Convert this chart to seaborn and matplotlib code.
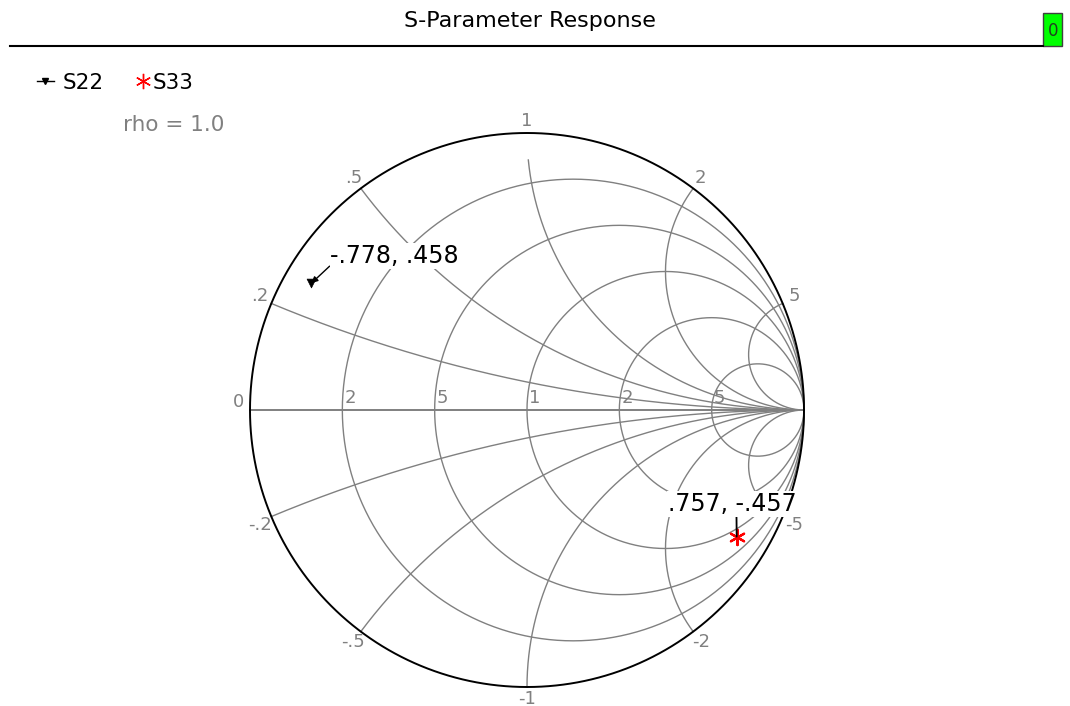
import numpy as np
import pandas as pd
import matplotlib
matplotlib.use("Agg")
import matplotlib.pyplot as plt
from matplotlib.lines import Line2D
from matplotlib.patches import Rectangle
import seaborn as sns

# chart values
resistance_values = [0.2, 0.5, 1, 2, 5]
resistance_labels = ["2", "5", "1", "2", "5"]
reactance_values = [0.2, 0.5, 1, 2, 5, -0.2, -0.5, -1, -2, -5]
reactance_labels = [".2", ".5", "1", "2", "5", "-.2", "-.5", "-1", "-2", "-5"]
traces = ["S22", "S33"]
trace_re = [-0.778, 0.757]
trace_im = [0.458, -0.457]
trace_text = ["-.778, .458", ".757, -.457"]

W, H = 1070, 706
CX, CY, RAD = 527, 410, 277


def fig_xy(px, py):
    return px / W, 1 - py / H


def gamma(z):
    return (z - 1) / (z + 1)


# build grid curves
rows = []
t = np.linspace(0, 2 * np.pi, 721)
for r in resistance_values:
    c, rr = r / (1 + r), 1 / (1 + r)
    for gx, gy in zip(c + rr * np.cos(t), rr * np.sin(t)):
        rows.append(("r%s" % r, gx, gy))
rvals = np.tan(np.linspace(0, np.pi / 2 - 1e-4, 600))
for x in reactance_values:
    g = gamma(rvals + 1j * x)
    if x == 1:
        g = g[g.imag < 0.905]  # gap under top label
    for gx, gy in zip(g.real, g.imag):
        rows.append(("x%s" % x, gx, gy))
grid = pd.DataFrame(rows, columns=["curve", "gx", "gy"])

fig = plt.figure(figsize=(W / 100, H / 100), dpi=100)
ax = fig.add_axes([0, 0, 1, 1])
ax.set_xlim(-CX / RAD, (W - CX) / RAD)
ax.set_ylim((CY - H) / RAD, CY / RAD)
ax.axis("off")

sns.lineplot(data=grid, x="gx", y="gy", units="curve", estimator=None, sort=False,
             color="#808080", linewidth=1.0, ax=ax, legend=False)
ax.plot([-1, 1], [0, 0], color="#808080", linewidth=1.4)
tt = np.linspace(0, 2 * np.pi, 721)
ax.plot(np.cos(tt), np.sin(tt), color="black", linewidth=1.4)

# resistance labels along the real axis
for r, lab in zip(resistance_values, resistance_labels):
    ax.text((r - 1) / (r + 1) + 0.008, 0.012, lab, color="#808080", fontsize=13,
            ha="left", va="bottom")
ax.text(-1.04, 0.03, "0", color="#808080", fontsize=13, ha="center", va="center")

# reactance labels around the rim
for x, lab in zip(reactance_values, reactance_labels):
    g = gamma(0 + 1j * x)
    ang = np.angle(g)
    dy = 0.012 * np.cos(ang) ** 4 if x > 0 else -0.02 * np.cos(ang) ** 4
    ax.text(np.cos(ang) * 1.045, np.sin(ang) * 1.045 + dy, lab, color="#808080",
            fontsize=13, ha="center", va="center")

# trace markers
pts = pd.DataFrame({"trace": traces, "re": trace_re, "im": trace_im})
sns.scatterplot(data=pts[pts.trace == "S22"], x="re", y="im", marker="v", s=40,
                color="black", edgecolor="black", ax=ax, legend=False, zorder=5)
sns.scatterplot(data=pts[pts.trace == "S33"], x="re", y="im", marker=(6, 2, 0), s=120,
                color="red", linewidth=1.6, ax=ax, legend=False, zorder=5)
ax.annotate(trace_text[0], xy=(trace_re[0], trace_im[0]),
            xytext=(trace_re[0] + 0.068, trace_im[0] + 0.055), fontsize=17, color="black",
            ha="left", va="bottom", zorder=6,
            bbox=dict(facecolor="white", edgecolor="none", pad=0.5),
            arrowprops=dict(arrowstyle="-|>", color="black", lw=1, mutation_scale=9,
                            shrinkA=0, shrinkB=0, relpos=(0.0, 0.1)))
ax.annotate(trace_text[1], xy=(trace_re[1], trace_im[1]),
            xytext=(trace_re[1] - 0.017, trace_im[1] + 0.075), fontsize=17, color="black",
            ha="center", va="bottom", zorder=6,
            bbox=dict(facecolor="white", edgecolor="none", pad=0.5),
            arrowprops=dict(arrowstyle="-", color="black", lw=1.3, shrinkA=0, shrinkB=0,
                            relpos=(0.535, 0.0)))
ax.set_xlabel("")
ax.set_ylabel("")

# header
fig.text(*fig_xy(530, 21), "S-Parameter Response", fontsize=16, ha="center",
         va="center")
fig.add_artist(Line2D([10 / W, 1043 / W], [1 - 46 / H, 1 - 46 / H], color="black",
                      linewidth=1.5, transform=fig.transFigure))
fig.add_artist(Rectangle(fig_xy(1043, 46), 19 / W, 33 / H, facecolor="#00ff00",
                         edgecolor="#404040", linewidth=1, transform=fig.transFigure))
fig.text(*fig_xy(1053, 31), "0", fontsize=12, ha="center", va="center", color="#204020")

# legend, one entry each
h22 = Line2D([], [], color="black", marker="v", markersize=5, linewidth=1)
h33 = Line2D([], [], color="red", marker=(6, 2, 0), markersize=11, linewidth=0)
fig.legend([h22], [traces[0]], loc="center left", bbox_to_anchor=fig_xy(37, 83),
           frameon=False, fontsize=15.5, handlelength=0.77, handletextpad=0.4,
           borderaxespad=0, borderpad=0)
fig.legend([h33], [traces[1]], loc="center left", bbox_to_anchor=fig_xy(135, 83),
           frameon=False, fontsize=15.5, handlelength=0.77, handletextpad=0.05,
           borderaxespad=0, borderpad=0)
fig.text(*fig_xy(123, 125), "rho = 1.0", fontsize=15.5, color="#808080", ha="left",
         va="center")

fig.savefig("out.png", dpi=100)
